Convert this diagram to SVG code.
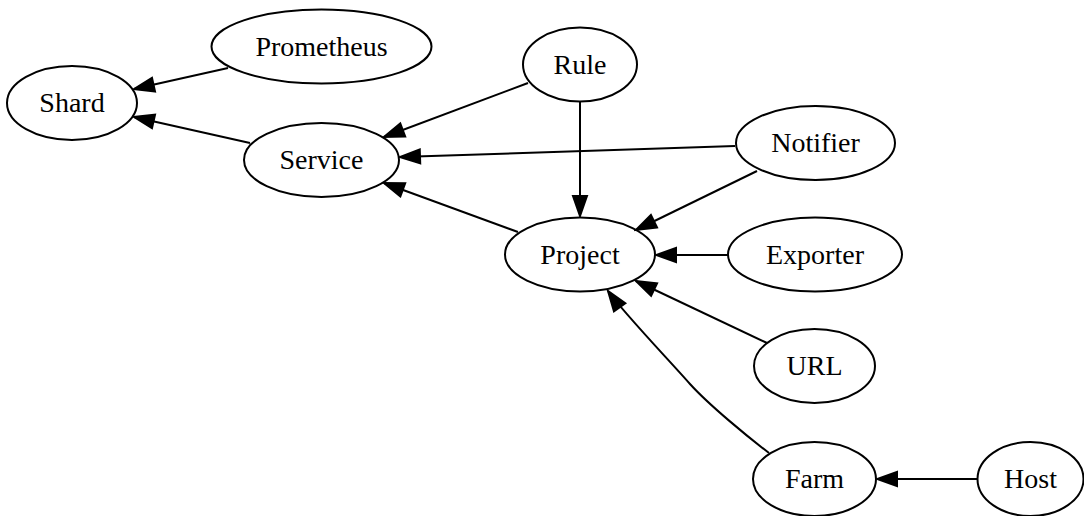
<svg xmlns="http://www.w3.org/2000/svg" width="1084" height="516" viewBox="0 0 1084 516">
<style>
.n ellipse{fill:none;stroke:#000;stroke-width:2}
.n text{font-family:"Liberation Serif","Times New Roman",serif;font-size:28px;text-anchor:middle;fill:#000}
.e path{fill:none;stroke:#000;stroke-width:2;marker-end:url(#arr)}
</style>
<defs>
<marker id="arr" markerUnits="userSpaceOnUse" markerWidth="24" markerHeight="18" viewBox="-2 -2 24 18" refX="20" refY="7" orient="auto">
<path d="M0,0 L20,7 L0,14 Z" fill="#000" stroke="#000" stroke-width="2"/>
</marker>
</defs>
<rect width="1084" height="516" fill="#fff"/>
<g id="edges" class="e">
<path d="M228,68 L134,89"/>
<path d="M250,143 L134,117"/>
<path d="M528,83 L384,137"/>
<path d="M735,146 L400,157"/>
<path d="M518,232 L384,183"/>
<path d="M580,102 L580,216"/>
<path d="M757,171 L636,230"/>
<path d="M728,255 L656,255"/>
<path d="M767,343 L636,281"/>
<path d="M769,453 C748,437 709,405 690,384 C667,358 623,312 608,291"/>
<path d="M977,479 L877,479"/>
</g>
<g id="Shard" class="n"><ellipse cx="72" cy="103" rx="65" ry="37"/><text x="72" y="112">Shard</text></g>
<g id="Prometheus" class="n"><ellipse cx="321.5" cy="46.5" rx="110" ry="37"/><text x="321.5" y="55.5">Prometheus</text></g>
<g id="Service" class="n"><ellipse cx="321.5" cy="160" rx="77.5" ry="37"/><text x="321.5" y="169">Service</text></g>
<g id="Rule" class="n"><ellipse cx="580" cy="64.5" rx="57" ry="37"/><text x="580" y="73.5">Rule</text></g>
<g id="Project" class="n"><ellipse cx="580" cy="254.5" rx="75" ry="37"/><text x="580" y="263.5">Project</text></g>
<g id="Notifier" class="n"><ellipse cx="815.5" cy="143" rx="79.5" ry="37"/><text x="815.5" y="152">Notifier</text></g>
<g id="Exporter" class="n"><ellipse cx="815" cy="254.5" rx="87" ry="37"/><text x="815" y="263.5">Exporter</text></g>
<g id="URL" class="n"><ellipse cx="814.5" cy="366" rx="60.5" ry="37"/><text x="814.5" y="375">URL</text></g>
<g id="Farm" class="n"><ellipse cx="814.5" cy="479" rx="61.5" ry="37"/><text x="814.5" y="488">Farm</text></g>
<g id="Host" class="n"><ellipse cx="1030.5" cy="479" rx="53" ry="37"/><text x="1030.5" y="488">Host</text></g>
</svg>
